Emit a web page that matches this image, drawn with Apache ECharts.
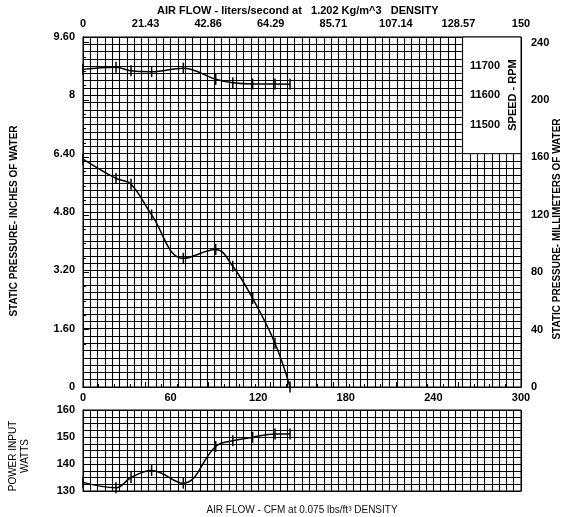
<!DOCTYPE html>
<html>
<head>
<meta charset="utf-8">
<script src="https://cdn.jsdelivr.net/npm/echarts@6.0.0/dist/echarts.min.js"></script>
<style>
  html, body { margin: 0; padding: 0; background: #fff; }
  #chart { width: 567px; height: 517px; }
</style>
</head>
<body>
<div id="chart"></div>
<script>
// test points
const cfm = [0, 22.6, 32.9, 47, 68.7, 90.9, 102.6, 116.2, 131.5, 141.8]
const pressureIn = [6.25, 5.72, 5.56, 4.72, 3.53, 3.77, 3.31, 2.43, 1.20, 0]
const speedRpm = [11689, 11696, 11684, 11681, 11693, 11655, 11643, 11639, 11639, 11638]
const powerW = [133.2, 131.2, 135.0, 137.6, 132.9, 146.5, 148.6, 149.9, 151.1, 151.1]

// axis ranges / tick labels
const cfmMax = 300
const cfmLabelStep = 60
const litersMax = 150
const inchMax = 9.6
const inchLabelStep = 1.6
const mmMax = 9.6 * 25.4
const wattMin = 130
const wattMax = 160
const rpmLabels = [11500, 11600, 11700]

const font = "'Liberation Sans', Arial, sans-serif"
const ink = '#000'
// every grid line is a split line; labels only on every n-th one
const gridLine = { show: true, lineStyle: { color: '#000', width: 1.1 } }

function onStep(v, step) {
  const r = v / step
  return Math.abs(r - Math.round(r)) < 1e-6
}

const chart = echarts.init(document.getElementById('chart'))

function pairs(ys) {
  return cfm.map((c, i) => [c, ys[i]])
}

function curve(name, xi, yi, ys) {
  return {
    name: name,
    type: 'line',
    xAxisIndex: xi,
    yAxisIndex: yi,
    smooth: 0.4,
    symbol: 'rect',
    symbolSize: [1.5, 11],
    lineStyle: { color: ink, width: 1.5 },
    itemStyle: { color: ink },
    z: 3,
    data: pairs(ys)
  }
}

const boldLabel = { color: ink, fontFamily: font, fontSize: 11, fontWeight: 'bold' }

chart.setOption({
  animation: false,
  backgroundColor: '#fff',
  grid: [
    { left: 83, right: 46, top: 37, height: 350, show: true, borderColor: ink, borderWidth: 1 },
    { left: 83, right: 46, top: 410, height: 84, show: true, borderColor: ink, borderWidth: 1 }
  ],
  xAxis: [{
    // CFM, upper chart
    type: 'value',
    gridIndex: 0,
    position: 'bottom',
    min: 0,
    max: cfmMax,
    interval: 5,
    axisLine: { show: true, lineStyle: { color: ink } },
    axisTick: { show: false },
    axisLabel: Object.assign({
      margin: 5,
      formatter(v) {
        return onStep(v, cfmLabelStep) ? String(v) : ''
      }
    }, boldLabel),
    splitLine: gridLine
  }, {
    // liters/second along the top
    type: 'value',
    gridIndex: 0,
    position: 'top',
    min: 0,
    max: litersMax,
    interval: litersMax / 7,
    z: 5,
    axisLine: { show: true, lineStyle: { color: ink } },
    axisTick: { show: true, length: 5, lineStyle: { color: ink } },
    minorTick: { show: true, splitNumber: 4, length: 3, lineStyle: { color: ink } },
    axisLabel: Object.assign({
      margin: 8,
      formatter(v) {
        return String(Math.round(v * 100) / 100)
      }
    }, boldLabel),
    splitLine: { show: false }
  }, {
    // CFM, power chart
    type: 'value',
    gridIndex: 1,
    min: 0,
    max: cfmMax,
    interval: 5,
    axisLine: { show: true, lineStyle: { color: ink } },
    axisTick: { show: false },
    axisLabel: { show: false },
    splitLine: gridLine,
    name: 'AIR FLOW - CFM at 0.075 lbs/ft³ DENSITY',
    nameLocation: 'middle',
    nameGap: 10,
    nameTextStyle: {
      color: '#111',
      fontFamily: font,
      fontSize: 10,
      backgroundColor: '#fff',
      padding: [4, 3, 1, 3]
    }
  }],
  yAxis: [{
    // inches of water
    type: 'value',
    gridIndex: 0,
    min: 0,
    max: inchMax,
    interval: 0.2,
    axisLine: { show: true, lineStyle: { color: ink } },
    axisTick: { show: false },
    axisLabel: Object.assign({
      margin: 8,
      formatter(v) {
        if (!onStep(v, inchLabelStep)) return ''
        return Math.abs(v - Math.round(v)) < 1e-6 ? String(Math.round(v)) : v.toFixed(2)
      }
    }, boldLabel),
    splitLine: gridLine
  }, {
    // millimeters of water
    type: 'value',
    gridIndex: 0,
    position: 'right',
    min: 0,
    max: mmMax,
    interval: 40,
    z: 5,
    axisLine: { show: true, lineStyle: { color: ink } },
    axisTick: { show: true, length: 6, lineStyle: { color: ink } },
    minorTick: { show: true, splitNumber: 4, length: 3, lineStyle: { color: ink } },
    axisLabel: Object.assign({
      margin: 10,
      formatter(v) {
        return v % 40 === 0 ? String(v) : ''
      }
    }, boldLabel),
    splitLine: { show: false }
  }, {
    // speed scale, labels sit inside the white box
    type: 'value',
    gridIndex: 0,
    position: 'right',
    min: 10600,
    max: 11800,
    interval: 100,
    z: 6,
    axisLine: { show: false },
    axisTick: { show: false },
    axisLabel: Object.assign({
      inside: true,
      margin: 21,
      formatter(v) {
        return rpmLabels.indexOf(v) >= 0 ? String(v) : ''
      }
    }, boldLabel),
    splitLine: { show: false }
  }, {
    // watts
    type: 'value',
    gridIndex: 1,
    min: wattMin,
    max: wattMax,
    interval: 2.5,
    axisLine: { show: true, lineStyle: { color: ink } },
    axisTick: { show: false },
    axisLabel: Object.assign({
      margin: 8,
      formatter(v) {
        return onStep(v, 10) ? String(v) : ''
      }
    }, boldLabel),
    splitLine: gridLine
  }],
  series: [
    Object.assign(curve('Static pressure', 0, 0, pressureIn), {
      markArea: {
        silent: true,
        itemStyle: { color: '#fff', borderColor: ink, borderWidth: 1 },
        data: [[{ xAxis: 260, yAxis: 6.4 }, { xAxis: cfmMax, yAxis: inchMax }]]
      }
    }),
    curve('Speed', 0, 2, speedRpm),
    curve('Power', 2, 3, powerW)
  ],
  graphic: [{
    type: 'text',
    left: 157,
    top: 5,
    style: { text: 'AIR FLOW - liters/second at   1.202 Kg/m^3   DENSITY', fill: ink, font: 'bold 11px ' + font }
  }, {
    type: 'text',
    x: 14,
    y: 221,
    rotation: Math.PI / 2,
    style: { text: 'STATIC PRESSURE- INCHES OF WATER', fill: ink, font: 'bold 10px ' + font, align: 'center', verticalAlign: 'middle' }
  }, {
    type: 'text',
    x: 557,
    y: 229,
    rotation: Math.PI / 2,
    style: { text: 'STATIC PRESSURE- MILLIMETERS OF WATER', fill: ink, font: 'bold 10px ' + font, align: 'center', verticalAlign: 'middle' }
  }, {
    type: 'text',
    x: 513,
    y: 95,
    z: 10,
    rotation: Math.PI / 2,
    style: { text: 'SPEED - RPM', fill: ink, font: 'bold 11px ' + font, align: 'center', verticalAlign: 'middle' }
  }, {
    type: 'text',
    x: 19,
    y: 456,
    rotation: Math.PI / 2,
    style: { text: 'POWER INPUT\nWATTS', fill: ink, font: '10px ' + font, align: 'center', verticalAlign: 'middle', lineHeight: 12 }
  }]
})
</script>
</body>
</html>
